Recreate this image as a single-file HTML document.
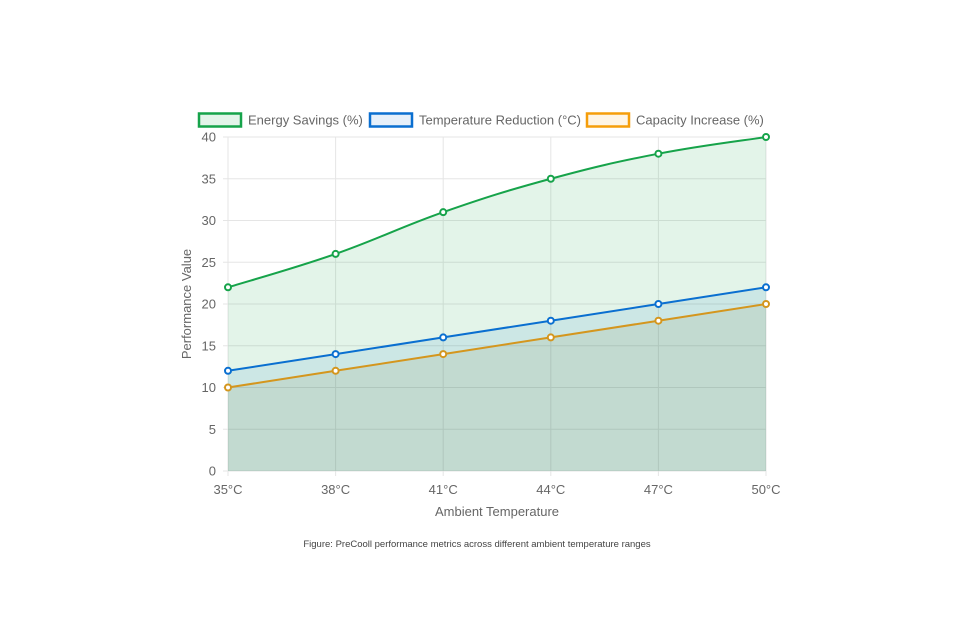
<!DOCTYPE html>
<html><head><meta charset="utf-8"><style>
body{margin:0;background:#fff;width:960px;height:630px;overflow:hidden;font-family:"Liberation Sans",sans-serif}
</style></head><body>
<svg width="960" height="630" id="c" font-family="Liberation Sans, sans-serif">
<g id="legend">
 <g><rect x="199" y="113.5" width="42" height="13" fill="rgba(22,163,74,0.12)" stroke="#16a34a" stroke-width="2.5"/><text x="248" y="124.5" font-size="13" fill="#666">Energy Savings (%)</text></g>
 <g><rect x="370" y="113.5" width="42" height="13" fill="rgba(10,111,208,0.1)" stroke="#0a6fd0" stroke-width="2.5"/><text x="419" y="124.5" font-size="13" fill="#666">Temperature Reduction (°C)</text></g>
 <g><rect x="587" y="113.5" width="42" height="13" fill="rgba(245,158,11,0.1)" stroke="#f59e0b" stroke-width="2.5"/><text x="636" y="124.5" font-size="13" fill="#666">Capacity Increase (%)</text></g>
</g>
<text x="497" y="516" font-size="13" fill="#666" text-anchor="middle">Ambient Temperature</text>
<text transform="translate(191,304) rotate(-90)" font-size="13" fill="#666" text-anchor="middle">Performance Value</text>
<text x="477" y="547" font-size="9.5" fill="#444" text-anchor="middle">Figure: PreCooll performance metrics across different ambient temperature ranges</text>
</svg>
<script>
const categories=["35°C","38°C","41°C","44°C","47°C","50°C"];
const energy=[22,26,31,35,38,40];
const tempRed=[12,14,16,18,20,22];
const capacity=[10,12,14,16,18,20];
const yTicks=[0,5,10,15,20,25,30,35,40];
const svg=document.getElementById('c');const NS='http://www.w3.org/2000/svg';
const X0=228,X1=766,Y0=471,Y1=137;
const x=i=>X0+(X1-X0)*i/(categories.length-1);
const y=v=>Y0-(Y0-Y1)*v/40;
function mk(t,a,p){const e=document.createElementNS(NS,t);for(const k in a)e.setAttribute(k,a[k]);(p||svg).appendChild(e);return e;}
const grid=mk('g',{});


yTicks.forEach(v=>{mk('line',{x1:X0-5,x2:X1,y1:y(v),y2:y(v),stroke:'#e5e5e5'},grid);
 const t=mk('text',{x:X0-12,y:y(v)+4.5,'font-size':13,fill:'#666','text-anchor':'end'});t.textContent=v;
 
 });
categories.forEach((c,i)=>{mk('line',{x1:x(i),x2:x(i),y1:Y1,y2:Y0+5,stroke:'#e5e5e5'},grid);
 const t=mk('text',{x:x(i),y:Y0+23,'font-size':13,fill:'#666','text-anchor':'middle'});t.textContent=c;
 
 });
function pathD(vals,smooth){const p=vals.map((v,i)=>[x(i),y(v)]);let d='M'+p[0];
 for(let i=1;i<p.length;i++){if(!smooth){d+='L'+p[i];continue;}
  const a=p[i-2]||p[i-1],b=p[i-1],c=p[i],e=p[i+1]||p[i],k=0.4/2;
  d+='C'+[b[0]+(c[0]-a[0])*k,b[1]+(c[1]-a[1])*k]+' '+[c[0]-(e[0]-b[0])*k,c[1]-(e[1]-b[1])*k]+' '+c;}
 return d;}
const series=[[energy,'#16a34a','rgba(22,163,74,0.12)','energy',true],[tempRed,'#0a6fd0','rgba(10,120,200,0.1)','temperature',false],[capacity,'#d4961e','rgba(120,120,60,0.12)','capacity',false]];
series.forEach(([vals,col,fill,name,sm])=>{const d=pathD(vals,sm);
 const a=mk('path',{d:d+'L'+x(vals.length-1)+','+Y0+'L'+X0+','+Y0+'Z',fill:fill});
 
 
});
series.forEach(([vals,col,fill,name,sm])=>{
 const l=mk('path',{d:pathD(vals,sm),fill:'none',stroke:col,'stroke-width':2});
 
 
 vals.forEach((v,i)=>{const c=mk('circle',{cx:x(i),cy:y(v),r:3,fill:'#fff',stroke:col,'stroke-width':2});
  
  });
});
svg.appendChild(document.getElementById('legend'));
</script>
</body></html>
